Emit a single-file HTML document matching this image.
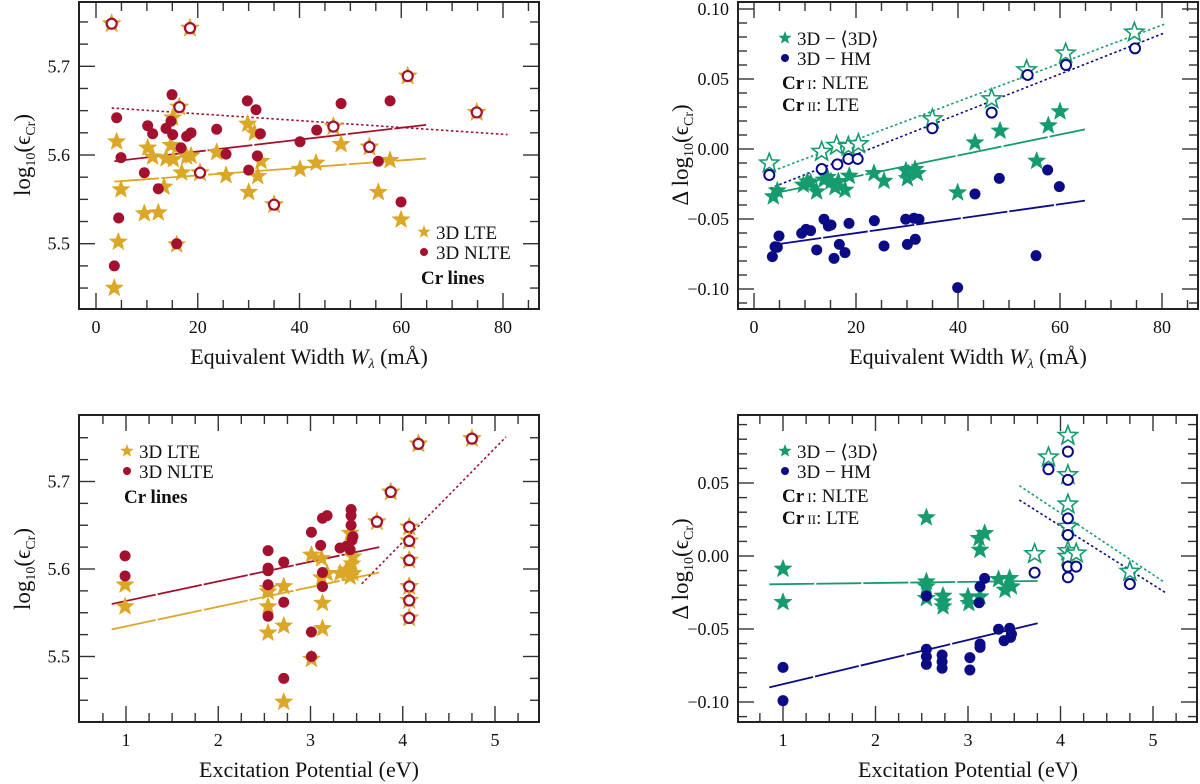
<!DOCTYPE html>
<html><head><meta charset="utf-8"><style>
html,body{margin:0;padding:0;background:#fff;}
svg{display:block;font-family:"Liberation Serif",serif;}
</style></head><body>
<svg id="fig" width="1200" height="784" viewBox="0 0 1200 784" xmlns="http://www.w3.org/2000/svg">
<g id="layer"></g>
</svg>
<script>
// ---------- TL: abundance vs EW ----------
const tlLteEW  = [3.6,4.06,4.39,4.91,9.5,10.16,11.14,12.25,13.37,13.76,14.74,15.2,15.07,17.82,18.68,16.84,23.72,25.56,29.82,30.01,31.13,31.78,32.44,40.1,43.25,48.17,55.5,57.8,59.96,15.86];
const tlLteVal = [5.450,5.615,5.502,5.561,5.534,5.608,5.598,5.535,5.564,5.596,5.611,5.595,5.642,5.598,5.599,5.580,5.603,5.577,5.635,5.558,5.625,5.576,5.593,5.584,5.591,5.612,5.558,5.594,5.527,5.499];
const tlNlteEW  = [4.06,3.6,4.46,4.91,9.5,10.16,11.14,12.25,13.76,14.74,14.94,15.07,16.71,17.82,18.68,23.72,25.56,29.75,30.01,31.45,31.72,32.31,40.1,43.38,48.17,55.5,57.8,59.96,15.86];
const tlNlteVal = [5.642,5.475,5.529,5.597,5.580,5.633,5.624,5.562,5.630,5.638,5.668,5.623,5.608,5.621,5.625,5.629,5.601,5.661,5.583,5.651,5.599,5.624,5.615,5.628,5.658,5.593,5.661,5.547,5.500];
const tlIIEW  = [3.08,16.38,18.48,20.45,35.0,46.66,53.74,61.27,74.84];
const tlIIVal = [5.748,5.654,5.743,5.580,5.544,5.632,5.609,5.689,5.648];
const tlFitX = [3.6,64.9];
const tlFitLte = [5.570,5.596];
const tlFitNlte = [5.593,5.634];
const tlFitIIX = [3.08,80.9];
const tlFitII = [5.653,5.623];

// ---------- TR: differences vs EW ----------
const trGreenEW  = [3.79,4.58,9.67,10.46,11.11,12.29,13.73,14.38,15.1,15.88,16.54,17.84,18.69,23.53,25.49,29.8,30.07,31.57,32.03,39.93,43.33,48.24,55.42,57.71,60.0];
const trGreenVal = [-0.0340,-0.0298,-0.0257,-0.0233,-0.0240,-0.0305,-0.0221,-0.0202,-0.0233,-0.0274,-0.0233,-0.0293,-0.0193,-0.0174,-0.0229,-0.0155,-0.0210,-0.0145,-0.0174,-0.0312,0.0045,0.0129,-0.0086,0.0167,0.0267];
const trGreenIIEW  = [3.0,13.27,16.2,18.5,20.46,34.97,46.6,53.46,61.11,74.58];
const trGreenIIVal = [-0.0102,-0.0019,0.0024,0.0017,0.0036,0.0214,0.0357,0.0564,0.0683,0.0833];
const trBlueEW  = [3.6,4.12,4.58,4.9,9.35,10.2,11.1,12.29,13.73,14.58,15.1,15.69,16.73,17.84,18.63,23.6,25.49,29.74,30.07,31.37,31.63,32.35,39.93,43.33,48.1,55.3,57.58,59.87];
const trBlueVal = [-0.0769,-0.0698,-0.0702,-0.0621,-0.0602,-0.0574,-0.0583,-0.0721,-0.0502,-0.0550,-0.0543,-0.0781,-0.0681,-0.0740,-0.0531,-0.0512,-0.0693,-0.0502,-0.0681,-0.0495,-0.0645,-0.0502,-0.0990,-0.0321,-0.0210,-0.0762,-0.0150,-0.0269];
const trBlueIIEW  = [3.0,13.27,16.34,18.5,20.33,34.97,46.6,53.66,61.18,74.71];
const trBlueIIVal = [-0.0186,-0.0143,-0.0110,-0.0071,-0.0071,0.0148,0.0260,0.0529,0.0600,0.0719];
const trFitGreenX = [3.79,64.9];
const trFitGreen = [-0.0317,0.0140];
const trFitBlueX = [4.44,64.9];
const trFitBlue = [-0.0681,-0.0369];
const trFitGreenIIX = [3.79,80.6];
const trFitGreenII = [-0.0155,0.0893];
const trFitBlueIIX = [3.14,80.26];
const trFitBlueII = [-0.0281,0.0826];

// ---------- BL: abundance vs EP ----------
const blLteEP  = [0.99,0.99,2.54,2.54,2.54,2.54,2.71,2.71,2.71,3.01,3.01,3.12,3.12,3.13,3.13,3.18,3.32,3.39,3.43,3.45,3.46,3.46,3.43];
const blLteVal = [5.582,5.557,5.578,5.574,5.557,5.527,5.580,5.535,5.448,5.616,5.497,5.612,5.590,5.561,5.532,5.595,5.595,5.599,5.641,5.606,5.614,5.595,5.591];
const blNlteEP  = [0.99,0.99,2.54,2.54,2.54,2.54,2.54,2.71,2.71,2.71,3.01,3.01,3.01,3.11,3.13,3.13,3.13,3.18,3.32,3.39,3.44,3.44,3.44,3.45,3.46,3.43];
const blNlteVal = [5.615,5.592,5.621,5.601,5.598,5.582,5.546,5.608,5.562,5.475,5.642,5.528,5.500,5.627,5.596,5.580,5.658,5.661,5.624,5.626,5.668,5.661,5.650,5.633,5.637,5.622];
const blIIEP  = [3.72,3.87,4.17,4.75,4.07,4.07,4.07,4.07,4.07,4.07];
const blIIVal = [5.654,5.688,5.743,5.749,5.648,5.632,5.610,5.580,5.564,5.544];
const blFitX = [0.845,3.746];
const blFitLte = [5.531,5.596];
const blFitNlte = [5.560,5.625];
const blFitIIX = [3.555,5.12];
const blFitII = [5.583,5.751];

// ---------- BR: differences vs EP ----------
const brGreenEP  = [1.0,1.0,2.55,2.55,2.55,2.55,2.73,2.73,2.73,3.0,3.01,3.12,3.13,3.18,3.13,3.33,3.45,3.4,3.47];
const brGreenVal = [-0.0089,-0.0317,0.0263,-0.0176,-0.0210,-0.0290,-0.0274,-0.0313,-0.0347,-0.0279,-0.0324,0.0121,0.0041,0.0155,-0.0279,-0.0160,-0.0153,-0.0233,-0.0210];
const brGreenIIEP  = [3.72,3.87,4.08,4.08,4.08,4.08,4.08,4.08,4.17,4.75];
const brGreenIIVal = [0.0014,0.0676,0.0824,0.0555,0.0354,0.0201,0.0034,-0.0005,0.0018,-0.0107];
const brBlueEP  = [1.0,1.0,2.55,2.55,2.55,2.55,2.72,2.72,2.72,3.02,3.02,3.13,3.12,3.13,3.13,3.18,3.33,3.45,3.39,3.46,3.47];
const brBlueVal = [-0.0763,-0.0991,-0.0274,-0.0639,-0.0689,-0.0742,-0.0678,-0.0724,-0.0769,-0.0696,-0.0781,-0.0210,-0.0320,-0.0603,-0.0626,-0.0153,-0.0502,-0.0495,-0.0580,-0.0557,-0.0534];
const brBlueIIEP  = [3.72,3.87,4.08,4.08,4.08,4.08,4.08,4.08,4.17,4.75];
const brBlueIIVal = [-0.0114,0.0594,0.0715,0.0521,0.0258,0.0144,-0.0073,-0.0146,-0.0073,-0.0192];
const brFitX = [0.852,3.753];
const brFitGreen = [-0.0194,-0.0171];
const brFitBlue = [-0.0900,-0.0461];
const brFitIIX = [3.555,5.13];
const brFitGreenII = [0.0482,-0.0183];
const brFitBlueII = [0.0384,-0.0249];

// tick labels
const tlXTicks = [0,20,40,60,80];
const tlYTicks = ["5.5","5.6","5.7"];
const trYTicks = ["−0.10","−0.05","0.00","0.05","0.10"];
const blXTicks = [1,2,3,4,5];
const brYTicks = ["−0.10","−0.05","0.00","0.05"];

const NS="http://www.w3.org/2000/svg";
const layer=document.getElementById('layer');
const GOLD="#dba726", RED="#a3112e", GREEN="#159b6e", BLUE="#0b0b85";
function mk(tag,attrs,parent){const e=document.createElementNS(NS,tag);for(const k in attrs)e.setAttribute(k,attrs[k]);(parent||layer).appendChild(e);return e;}
function lin(v0,p0,v1,p1){return v=>p0+(v-v0)*(p1-p0)/(v1-v0);}
function starPath(cx,cy,R){let d="";const r=R*0.42;for(let i=0;i<10;i++){const a=-Math.PI/2+i*Math.PI/5;const rr=i%2?r:R;d+=(i?"L":"M")+(cx+rr*Math.cos(a)).toFixed(2)+","+(cy+rr*Math.sin(a)).toFixed(2);}return d+"Z";}
function parseNum(s){return parseFloat(String(s).replace("−","-"));}

function frame(p,name){
  const g=mk('g',{});
  
  
  const {L,R,T,B,sx,sy}=p;
  const tick=(x1,y1,x2,y2)=>mk('line',{x1,y1,x2,y2,stroke:'#333','stroke-width':1.4},g);
  for(let v=p.xmin;v<=p.xmax+1e-9;v+=p.xminor){const x=sx(v);if(x<L+1||x>R-1)continue;const major=Math.abs(v/p.xmajor-Math.round(v/p.xmajor))<1e-6;const len=major?16:9;tick(x,B,x,B-len);tick(x,T,x,T+len);}
  for(let v=p.ymin;v<=p.ymax+1e-9;v+=p.yminor){const y=sy(v);if(y<T+1||y>B-1)continue;const major=Math.abs(v/p.ymajor-Math.round(v/p.ymajor))<1e-6;const len=major?16:9;tick(L,y,L+len,y);tick(R,y,R-len,y);}
  mk('rect',{x:L,y:T,width:R-L,height:B-T,fill:'none',stroke:'#222','stroke-width':2},g);
}
function xLabels(p,arr,name){arr.forEach(v=>{const t=mk('text',{x:p.sx(parseNum(v)),y:p.B+24,'text-anchor':'middle','font-size':18,fill:'#111'});t.textContent=v;});}
function yLabels(p,arr,name){arr.forEach(v=>{const t=mk('text',{x:p.L-9,y:p.sy(parseNum(v))+6,'text-anchor':'end','font-size':18,fill:'#111'});t.textContent=v;});}
function fit(p,xs,ys,color,dotted,name){const l=mk('line',{x1:p.sx(xs[0]),y1:p.sy(ys[0]),x2:p.sx(xs[1]),y2:p.sy(ys[1]),stroke:color,'stroke-width':dotted?1.6:1.8,'stroke-dasharray':dotted?'2.5,2.5':'45,2'});}
function stars(p,xs,ys,color,open,name){xs.forEach((x,i)=>{const s=mk('path',{d:starPath(p.sx(x),p.sy(ys[i]),open?10:9.5),fill:open?'#fff':color,stroke:color,'stroke-width':open?1.6:0.5});});}
function dots(p,xs,ys,color,open,name){xs.forEach((x,i)=>{const c=mk('circle',{cx:p.sx(x),cy:p.sy(ys[i]),r:open?5:5.5,fill:open?'#fff':color,stroke:color,'stroke-width':open?2:0});});}
function combo(p,xs,ys,name){xs.forEach((x,i)=>{const s=mk('path',{d:starPath(p.sx(x),p.sy(ys[i]),10),fill:GOLD,stroke:GOLD,'stroke-width':0.5});const c=mk('circle',{cx:p.sx(x),cy:p.sy(ys[i]),r:5,fill:'#fff',stroke:RED,'stroke-width':2.2});});}
function txt(x,y,s,size,name,extra){const t=mk('text',Object.assign({x,y,'font-size':size,fill:'#111'},extra||{}));t.innerHTML=s;return t;}

const TL={L:79,R:539,T:2,B:309,sx:lin(0,96,80,503),sy:lin(5.6,155,5.7,66.3),xmin:0,xmax:85,xminor:5,xmajor:20,ymin:5.425,ymax:5.775,yminor:0.025,ymajor:0.1};
const TR={L:738,R:1198,T:2,B:309,sx:lin(0,754,80,1162),sy:lin(0,149,0.05,79),xmin:0,xmax:85,xminor:5,xmajor:20,ymin:-0.11,ymax:0.10,yminor:0.01,ymajor:0.05};
const BL={L:79,R:539,T:415,B:722,sx:lin(1,126,5,495),sy:lin(5.6,569,5.7,481.5),xmin:0.5,xmax:5.5,xminor:0.25,xmajor:1,ymin:5.425,ymax:5.775,yminor:0.025,ymajor:0.1};
const BR={L:738,R:1197,T:415,B:722,sx:lin(1,783,5,1153),sy:lin(0,556,0.05,483),xmin:0.5,xmax:5.5,xminor:0.25,xmajor:1,ymin:-0.11,ymax:0.09,yminor:0.01,ymajor:0.05};

// TL
fit(TL,tlFitX,tlFitLte,GOLD,false,'fit-lte');
fit(TL,tlFitX,tlFitNlte,RED,false,'fit-nlte');
fit(TL,tlFitIIX,tlFitII,RED,true,'fit-cr2');
stars(TL,tlLteEW,tlLteVal,GOLD,false,'lte-star');
dots(TL,tlNlteEW,tlNlteVal,RED,false,'nlte-dot');
combo(TL,tlIIEW,tlIIVal,'cr2-marker');
frame(TL,'top-left');xLabels(TL,tlXTicks,'top-left');yLabels(TL,tlYTicks,'top-left');
// TR
fit(TR,trFitGreenX,trFitGreen,GREEN,false,'fit-3d-mean');
fit(TR,trFitBlueX,trFitBlue,BLUE,false,'fit-3d-hm');
fit(TR,trFitGreenIIX,trFitGreenII,GREEN,true,'fit-3d-mean-cr2');
fit(TR,trFitBlueIIX,trFitBlueII,BLUE,true,'fit-3d-hm-cr2');
stars(TR,trGreenEW,trGreenVal,GREEN,false,'diff-mean-star');
dots(TR,trBlueEW,trBlueVal,BLUE,false,'diff-hm-dot');
stars(TR,trGreenIIEW,trGreenIIVal,GREEN,true,'diff-mean-cr2-star');
dots(TR,trBlueIIEW,trBlueIIVal,BLUE,true,'diff-hm-cr2-circle');
frame(TR,'top-right');xLabels(TR,tlXTicks,'top-right');yLabels(TR,trYTicks,'top-right');
// BL
fit(BL,blFitX,blFitLte,GOLD,false,'fit-lte');
fit(BL,blFitX,blFitNlte,RED,false,'fit-nlte');
fit(BL,blFitIIX,blFitII,RED,true,'fit-cr2');
stars(BL,blLteEP,blLteVal,GOLD,false,'lte-star');
dots(BL,blNlteEP,blNlteVal,RED,false,'nlte-dot');
combo(BL,blIIEP,blIIVal,'cr2-marker');
frame(BL,'bottom-left');xLabels(BL,blXTicks,'bottom-left');yLabels(BL,tlYTicks,'bottom-left');
// BR
fit(BR,brFitX,brFitGreen,GREEN,false,'fit-3d-mean');
fit(BR,brFitX,brFitBlue,BLUE,false,'fit-3d-hm');
fit(BR,brFitIIX,brFitGreenII,GREEN,true,'fit-3d-mean-cr2');
fit(BR,brFitIIX,brFitBlueII,BLUE,true,'fit-3d-hm-cr2');
stars(BR,brGreenEP,brGreenVal,GREEN,false,'diff-mean-star');
dots(BR,brBlueEP,brBlueVal,BLUE,false,'diff-hm-dot');
stars(BR,brGreenIIEP,brGreenIIVal,GREEN,true,'diff-mean-cr2-star');
dots(BR,brBlueIIEP,brBlueIIVal,BLUE,true,'diff-hm-cr2-circle');
frame(BR,'bottom-right');xLabels(BR,blXTicks,'bottom-right');yLabels(BR,brYTicks,'bottom-right');

// axis titles
const ewTitle='Equivalent Width <tspan font-style="italic">W</tspan><tspan font-style="italic" font-size="14" dy="4">λ</tspan><tspan dy="-4"> (mÅ)</tspan>';
txt(309,364,ewTitle,22,'x-axis-title-top-left',{'text-anchor':'middle'});
txt(968,364,ewTitle,22,'x-axis-title-top-right',{'text-anchor':'middle'});
txt(309,777,'Excitation Potential (eV)',22,'x-axis-title-bottom-left',{'text-anchor':'middle'});
txt(968,777,'Excitation Potential (eV)',22,'x-axis-title-bottom-right',{'text-anchor':'middle'});
const logT='log<tspan font-size="14" dy="5">10</tspan><tspan dy="-5">(ϵ</tspan><tspan font-size="14" dy="5">Cr</tspan><tspan dy="-5">)</tspan>';
txt(0,0,logT,23,'y-axis-title-top-left',{'text-anchor':'middle',transform:'translate(30,155) rotate(-90)'});
txt(0,0,logT,23,'y-axis-title-bottom-left',{'text-anchor':'middle',transform:'translate(30,569) rotate(-90)'});
txt(0,0,'Δ '+logT,23,'y-axis-title-top-right',{'text-anchor':'middle',transform:'translate(688,155) rotate(-90)'});
txt(0,0,'Δ '+logT,23,'y-axis-title-bottom-right',{'text-anchor':'middle',transform:'translate(688,569) rotate(-90)'});

// legends
function legendAbund(x,y,pre){
  const s=mk('path',{d:starPath(x,y,7),fill:GOLD});
  txt(x+12,y+7,'3D LTE',19,pre+'-legend-lte');
  const c=mk('circle',{cx:x,cy:y+20,r:4,fill:RED});
  txt(x+12,y+27,'3D NLTE',19,pre+'-legend-nlte');
  txt(x-3,y+52,'Cr  lines',19,pre+'-legend-cr-lines',{'font-weight':'bold'});
}
function legendDiff(x,y,pre){
  const s=mk('path',{d:starPath(x,y,7),fill:GREEN});
  txt(x+12,y+7,'3D − ⟨3D⟩',19,pre+'-legend-mean');
  const c=mk('circle',{cx:x,cy:y+20,r:4,fill:BLUE});
  txt(x+12,y+27,'3D − HM',19,pre+'-legend-hm');
  txt(x-3,y+51,'<tspan font-weight="bold">Cr</tspan><tspan font-size="13"> I</tspan>:  NLTE',19,pre+'-legend-cr1');
  txt(x-3,y+73,'<tspan font-weight="bold">Cr</tspan><tspan font-size="13"> II</tspan>:  LTE',19,pre+'-legend-cr2');
}
legendAbund(424,232,'top-left');
legendDiff(785,38,'top-right');
legendAbund(127,451,'bottom-left');
legendDiff(785,451,'bottom-right');
</script>
</body></html>
